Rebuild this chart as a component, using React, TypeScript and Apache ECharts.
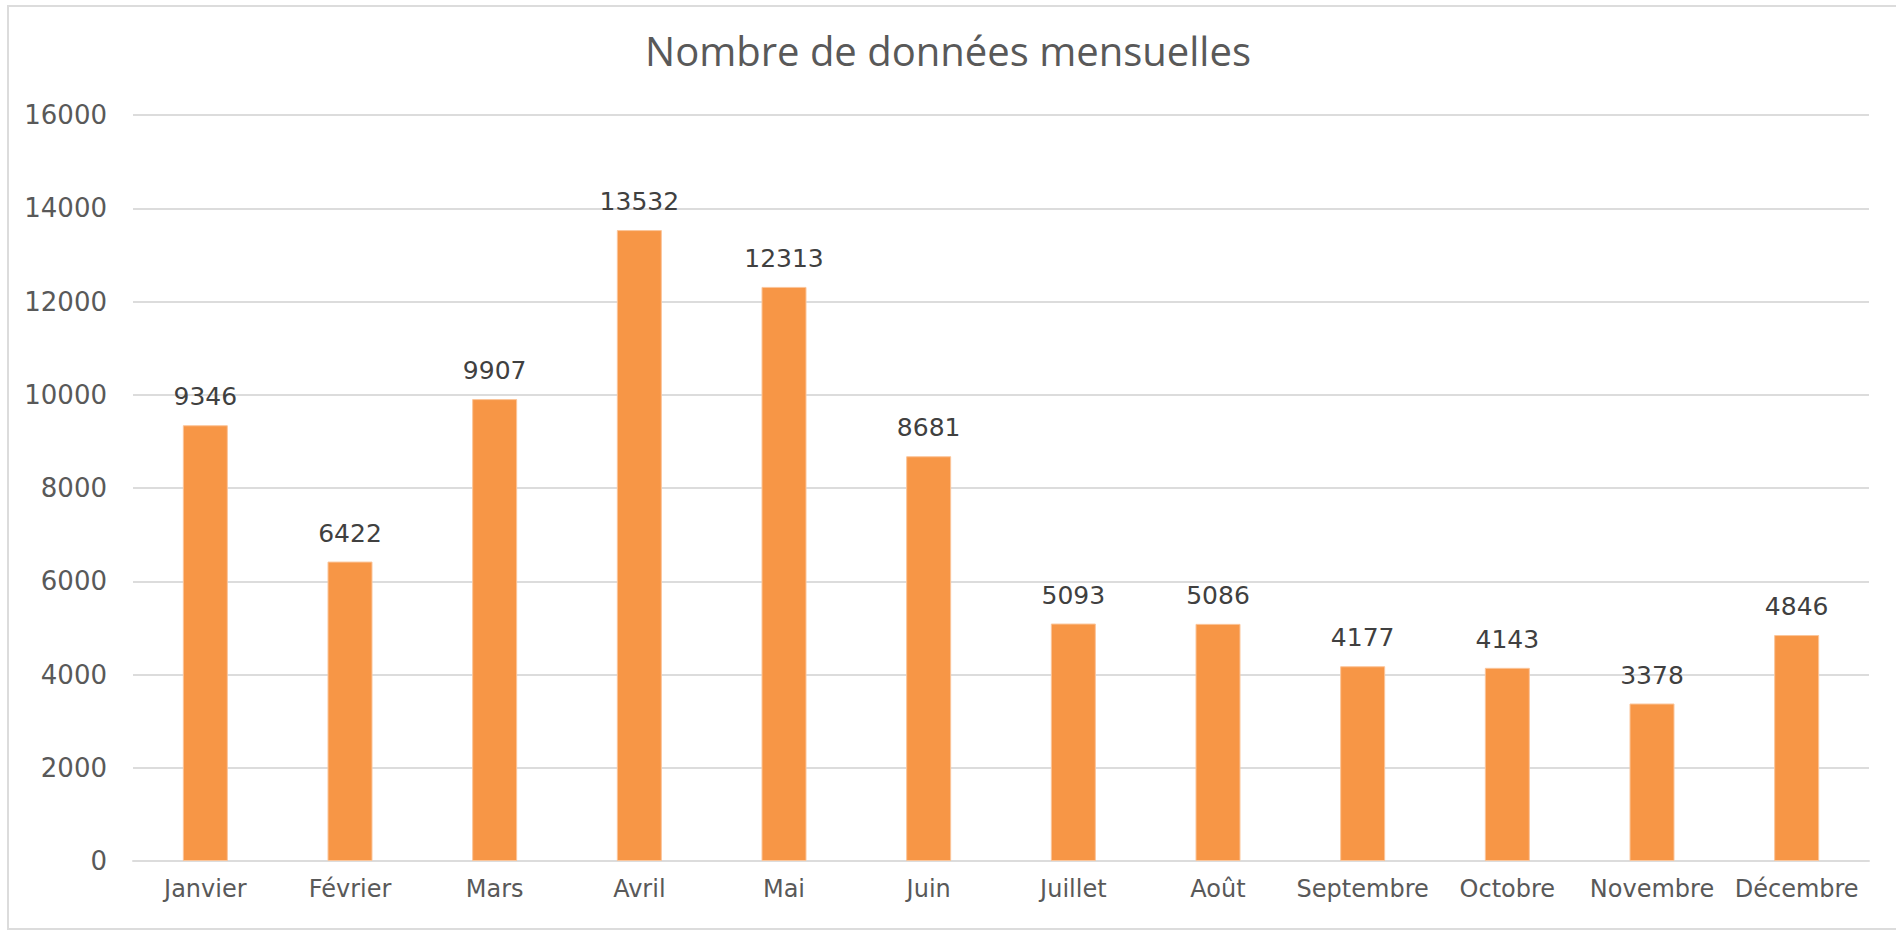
import React, { useEffect, useRef } from "react";
import * as echarts from "echarts";

const months = [
  "Janvier", "Février", "Mars", "Avril", "Mai", "Juin",
  "Juillet", "Août", "Septembre", "Octobre", "Novembre", "Décembre",
];
const counts = [9346, 6422, 9907, 13532, 12313, 8681, 5093, 5086, 4177, 4143, 3378, 4846];
const yMin = 0;
const yMax = 16000;
const yStep = 2000;
const titleText = "Nombre de données mensuelles";

export default function App() {
  const ref = useRef<HTMLDivElement>(null);
  useEffect(() => {
    document.body.style.margin = "0";
    const chart = echarts.init(ref.current!, null, { renderer: "svg" });
    chart.setOption({
      animation: false,
      backgroundColor: "#ffffff",
      title: {
        text: titleText,
        left: "center",
        top: 25,
        textStyle: {
          fontFamily: "Open Sans",
          fontSize: 40,
          fontWeight: "normal",
          color: "#595959",
        },
      },
      graphic: [
        {
          type: "rect",
          shape: { x: 8, y: 6, width: 1900, height: 923 },
          style: { fill: "none", stroke: "#dcdcdc", lineWidth: 2 },
          silent: true,
        },
      ],
      grid: { left: 133, right: 27, top: 115, bottom: 69 },
      xAxis: {
        type: "category",
        data: months,
        axisLine: { lineStyle: { color: "#dcdcdc", width: 2 } },
        axisTick: { show: false },
        axisLabel: {
          color: "#595959",
          fontFamily: "DejaVu Sans",
          fontSize: 24,
          margin: 16,
          interval: 0,
        },
      },
      yAxis: {
        type: "value",
        min: yMin,
        max: yMax,
        interval: yStep,
        axisLine: { show: false },
        axisTick: { show: false },
        splitLine: { lineStyle: { color: "#dcdcdc", width: 2 } },
        axisLabel: {
          color: "#595959",
          fontFamily: "DejaVu Sans",
          fontSize: 26,
          margin: 26,
          formatter: (v: number) => String(v),
        },
      },
      series: [
        {
          type: "bar",
          data: counts,
          barWidth: 45,
          itemStyle: { color: "#F79646", borderColor: "#FBC59A", borderWidth: 1 },
          label: {
            show: true,
            position: "top",
            distance: 16,
            color: "#404040",
            fontFamily: "DejaVu Sans",
            fontSize: 25,
          },
        },
      ],
    });
    return () => chart.dispose();
  }, []);
  return <div ref={ref} style={{ width: 1896, height: 930 }} />;
}
